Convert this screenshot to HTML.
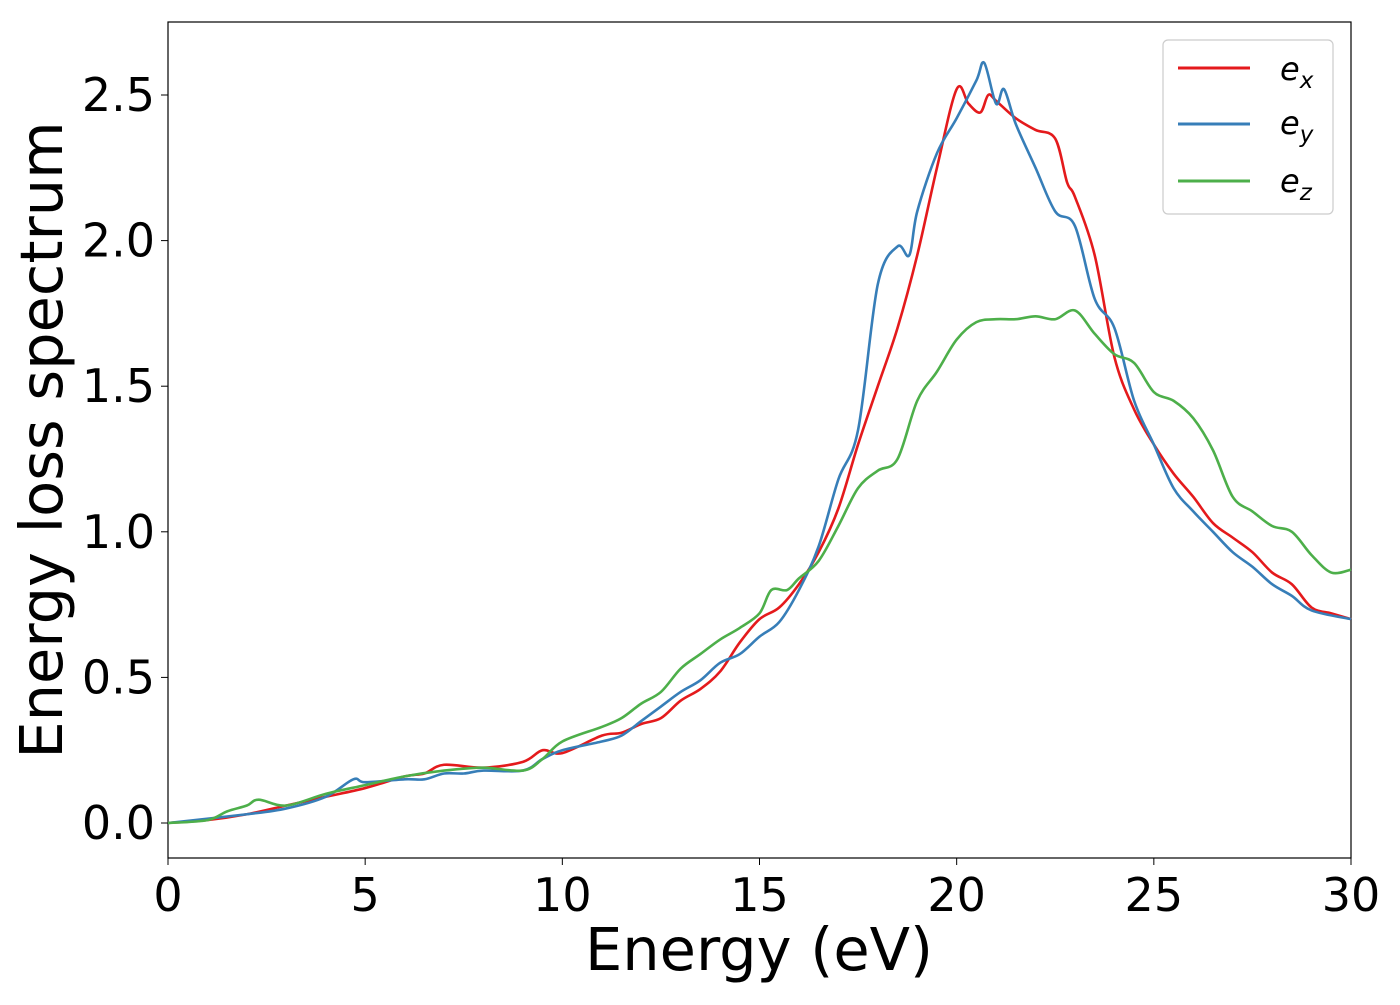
<!DOCTYPE html>
<html><head><meta charset="utf-8"><style>
body{margin:0;background:#fff}
svg text{font-family:"DejaVu Sans","Liberation Sans",sans-serif;fill:#000}
</style></head><body>
<svg id="chart" width="1400" height="1000" xmlns="http://www.w3.org/2000/svg">
<rect x="168" y="22" width="1183" height="836" fill="#fff" stroke="#000" stroke-width="1.2"/>
<g id="ticks"></g>
<g id="series"></g>
<text x="759" y="970" font-size="59" text-anchor="middle">Energy (eV)</text>
<text transform="translate(62,440) rotate(-90)" font-size="59" text-anchor="middle">Energy loss spectrum</text>
<g>
<rect x="1163" y="40" width="170" height="174" rx="5" fill="#fff" stroke="#ccc" stroke-width="1.2"/>
<g><line x1="1178" y1="68" x2="1250" y2="68" stroke="#e41a1c" stroke-width="3"/><text x="1280" y="80" font-size="32" font-style="italic">e<tspan font-size="23" dy="8">x</tspan></text></g>
<g><line x1="1178" y1="124" x2="1250" y2="124" stroke="#377eb8" stroke-width="3"/><text x="1280" y="134" font-size="32" font-style="italic">e<tspan font-size="23" dy="8">y</tspan></text></g>
<g><line x1="1178" y1="181" x2="1250" y2="181" stroke="#4daf4a" stroke-width="3"/><text x="1280" y="192" font-size="32" font-style="italic">e<tspan font-size="23" dy="8">z</tspan></text></g>
</g>
</svg>
<script>
const xTicks=[0,5,10,15,20,25,30];
const yTicks=[0.0,0.5,1.0,1.5,2.0,2.5];
const exX=[0,1,2,3,4,5,6,6.5,7,8,9,9.5,10,11,11.5,12,12.5,13,13.5,14,14.5,15,15.5,16,16.5,17,17.5,18,18.5,19,19.5,20,20.3,20.6,20.8,21,21.5,22,22.5,22.8,23,23.5,24,24.5,25,25.5,26,26.5,27,27.5,28,28.5,29,29.5,30];
const exY=[0,0.01,0.03,0.06,0.09,0.12,0.16,0.17,0.2,0.19,0.21,0.25,0.24,0.3,0.31,0.34,0.36,0.42,0.46,0.52,0.62,0.7,0.74,0.82,0.93,1.08,1.3,1.5,1.7,1.95,2.25,2.52,2.47,2.44,2.5,2.48,2.42,2.38,2.35,2.2,2.15,1.95,1.6,1.42,1.3,1.2,1.12,1.03,0.98,0.93,0.86,0.82,0.74,0.72,0.7];
const eyX=[0,2,3,4,4.7,5,6,6.5,7,7.5,8,9,9.5,10,11,11.5,12,12.5,13,13.5,14,14.5,15,15.5,16,16.5,17,17.5,18,18.5,18.8,19,19.5,20,20.5,20.7,21,21.2,21.5,22,22.5,23,23.5,24,24.5,25,25.5,26,26.5,27,27.5,28,28.5,29,30];
const eyY=[0,0.03,0.05,0.09,0.15,0.14,0.15,0.15,0.17,0.17,0.18,0.18,0.22,0.25,0.28,0.3,0.35,0.4,0.45,0.49,0.55,0.58,0.64,0.69,0.8,0.95,1.18,1.35,1.85,1.98,1.95,2.1,2.3,2.42,2.55,2.61,2.47,2.52,2.4,2.25,2.1,2.05,1.8,1.7,1.45,1.3,1.15,1.07,1.0,0.93,0.88,0.82,0.78,0.73,0.7];
const ezX=[0,1,1.5,2,2.3,3,4,5,6,7,8,9,9.5,10,11,11.5,12,12.5,13,13.5,14,14.5,15,15.3,15.7,16,16.5,17,17.5,18,18.5,19,19.5,20,20.5,21,21.5,22,22.5,23,23.5,24,24.5,25,25.5,26,26.5,27,27.5,28,28.5,29,29.5,30];
const ezY=[0,0.01,0.04,0.06,0.08,0.06,0.1,0.13,0.16,0.18,0.19,0.18,0.22,0.28,0.33,0.36,0.41,0.45,0.53,0.58,0.63,0.67,0.72,0.8,0.8,0.84,0.9,1.02,1.15,1.21,1.25,1.45,1.55,1.66,1.72,1.73,1.73,1.74,1.73,1.76,1.68,1.61,1.58,1.48,1.45,1.39,1.28,1.12,1.07,1.02,1.0,0.92,0.86,0.87];
const X=v=>168+v*(1183/30);
const Y=v=>823-v*291.2;
const NS="http://www.w3.org/2000/svg";
const tg=document.getElementById('ticks');
xTicks.forEach(t=>{
 const l=document.createElementNS(NS,'line');
 l.setAttribute('x1',X(t));l.setAttribute('x2',X(t));l.setAttribute('y1',858);l.setAttribute('y2',865);l.setAttribute('stroke','#000');
 
 
 tg.appendChild(l);
 const s=document.createElementNS(NS,'text');
 s.setAttribute('x',X(t));s.setAttribute('y',911);s.setAttribute('font-size','46');s.setAttribute('text-anchor','middle');
 s.textContent=t;
 
 
 tg.appendChild(s);
});
yTicks.forEach(t=>{
 const l=document.createElementNS(NS,'line');
 l.setAttribute('x1',161);l.setAttribute('x2',168);l.setAttribute('y1',Y(t));l.setAttribute('y2',Y(t));l.setAttribute('stroke','#000');
 
 
 tg.appendChild(l);
 const s=document.createElementNS(NS,'text');
 s.setAttribute('x',155);s.setAttribute('y',Y(t)+16);s.setAttribute('font-size','46');s.setAttribute('text-anchor','end');
 s.textContent=t.toFixed(1);
 
 
 tg.appendChild(s);
});
function path(xs,ys){
 const p=xs.map((x,i)=>[X(x),Y(ys[i])]);
 let d='M'+p[0][0]+','+p[0][1];
 for(let i=0;i<p.length-1;i++){
  const p0=p[i-1]||p[i],p1=p[i],p2=p[i+1],p3=p[i+2]||p2;
  const c1=[p1[0]+(p2[0]-p0[0])/6,p1[1]+(p2[1]-p0[1])/6];
  const c2=[p2[0]-(p3[0]-p1[0])/6,p2[1]-(p3[1]-p1[1])/6];
  d+=`C${c1[0]},${c1[1]} ${c2[0]},${c2[1]} ${p2[0]},${p2[1]}`;
 }
 return d;
}
const sg=document.getElementById('series');
[[exX,exY,'#e41a1c','series-ex'],[eyX,eyY,'#377eb8','series-ey'],[ezX,ezY,'#4daf4a','series-ez']].forEach(s=>{
 const e=document.createElementNS(NS,'path');
 e.setAttribute('d',path(s[0],s[1]));e.setAttribute('fill','none');e.setAttribute('stroke',s[2]);e.setAttribute('stroke-width','2.6');
 
 
 sg.appendChild(e);
});
</script>
</body></html>
